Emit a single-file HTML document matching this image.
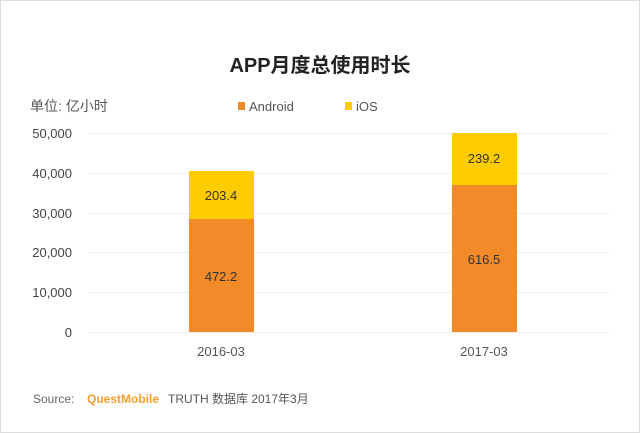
<!DOCTYPE html>
<html><head><meta charset="utf-8"><style>
body{margin:0;width:640px;height:433px;background:#fff;overflow:hidden}
svg{display:block}
text{font-family:"Liberation Sans","Noto Sans CJK SC",sans-serif}
</style></head><body>
<svg width="640" height="433" viewBox="0 0 640 433">
<rect x="0.5" y="0.5" width="639" height="432" fill="#fff" stroke="#ddd"/>
<text x="320" y="72" text-anchor="middle" font-size="20" font-weight="bold" fill="#222">APP月度总使用时长</text>
<text x="30" y="111" font-size="14" fill="#555">单位: 亿小时</text>
<rect x="238" y="102" width="7" height="8" fill="#EE8A2E"/>
<text x="249" y="111" font-size="13" fill="#555">Android</text>
<rect x="345" y="102" width="7" height="8" fill="#FFCC00"/>
<text x="356" y="111" font-size="13" fill="#555">iOS</text>
<g stroke="#eee" stroke-width="1">
<line x1="88" x2="610" y1="133.5" y2="133.5"/>
<line x1="88" x2="610" y1="173.5" y2="173.5"/>
<line x1="88" x2="610" y1="213.5" y2="213.5"/>
<line x1="88" x2="610" y1="252.5" y2="252.5"/>
<line x1="88" x2="610" y1="292.5" y2="292.5"/>
<line x1="88" x2="610" y1="332.5" y2="332.5"/>
</g>
<g font-size="13" fill="#444" text-anchor="end">
<text x="72" y="138">50,000</text>
<text x="72" y="178">40,000</text>
<text x="72" y="218">30,000</text>
<text x="72" y="257">20,000</text>
<text x="72" y="297">10,000</text>
<text x="72" y="337">0</text>
</g>
<rect x="189" y="171" width="65" height="49" fill="#FFCC00"/>
<rect x="189" y="219" width="65" height="113" fill="#F28A2A"/>
<rect x="452" y="133" width="65" height="53" fill="#FFCC00"/>
<rect x="452" y="185" width="65" height="147" fill="#F28A2A"/>
<g font-size="13" fill="#333" text-anchor="middle">
<text x="221" y="200">203.4</text>
<text x="221" y="281">472.2</text>
<text x="484" y="163">239.2</text>
<text x="484" y="264">616.5</text>
</g>
<g font-size="13" fill="#555" text-anchor="middle">
<text x="221" y="356">2016-03</text>
<text x="484" y="356">2017-03</text>
</g>
<text x="33" y="403" font-size="12" fill="#666">Source:</text>
<text x="87" y="403" font-size="12" font-weight="bold" fill="#F5A033">QuestMobile</text>
<text x="168" y="403" font-size="12" fill="#555">TRUTH 数据库 2017年3月</text>
</svg>
</body></html>
